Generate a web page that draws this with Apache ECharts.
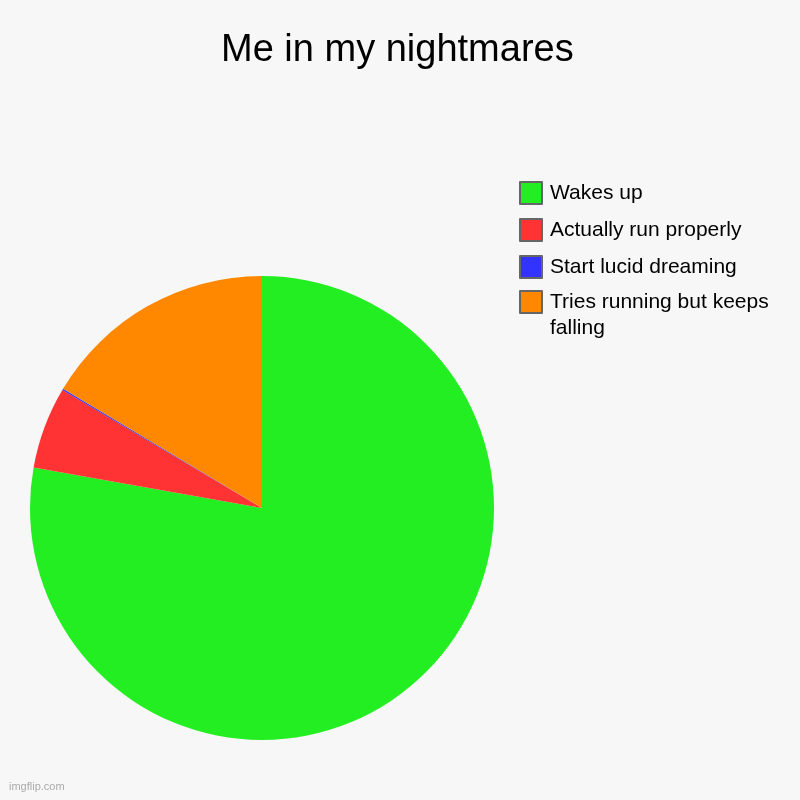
<!DOCTYPE html>
<html lang="en">
	<head>
		<meta charset="UTF-8" />
		<title>Me in my nightmares</title>
		<style>
			html, body { margin: 0; padding: 0; background: #f7f7f7; }
			#chart { width: 800px; height: 800px; }
		</style>
	</head>
	<body>
		<div id="chart"></div>
		<script src="https://cdn.jsdelivr.net/npm/echarts@6/dist/echarts.min.js"></script>
		<script>
			const names = [
				"Wakes up",
				"Actually run properly",
				"Start lucid dreaming",
				"Tries running but keeps falling",
			];
			const values = [77.8, 5.7, 0.1, 16.4];
			const colors = ["#22ee22", "#ff3333", "#3333ff", "#ff8800"];

			window.onload = function () {
				let chart = echarts.init(document.getElementById("chart"));
				let font = "'Liberation Sans', Arial, sans-serif";
				let legendCommon = {
					orient: "vertical",
					left: 519,
					padding: 0,
					icon: "rect",
					itemWidth: 22,
					itemHeight: 22,
					itemGap: 11,
					selectedMode: false,
					itemStyle: { borderColor: "#666", borderWidth: 2 },
					textStyle: {
						fontFamily: font,
						fontSize: 21,
						lineHeight: 26,
						color: "#000",
						padding: [0, 0, 0, 3],
					},
				};
				let option = {
					backgroundColor: "#f7f7f7",
					color: colors,
					title: [
						{
							text: "Me in my nightmares",
							left: 216,
							top: 27,
							textStyle: {
								fontFamily: font,
								fontSize: 38,
								fontWeight: "normal",
								color: "#000",
							},
						},
						{
							text: "imgflip.com",
							left: 4,
							bottom: 3,
							textStyle: {
								fontFamily: font,
								fontSize: 11,
								fontWeight: "normal",
								color: "#aaa",
							},
						},
					],
					legend: [
						Object.assign({}, legendCommon, {
							top: 180,
							data: names.slice(0, 3),
						}),
						Object.assign({}, legendCommon, {
							top: 263,
							data: [names[3]],
							// 空的第一行让图标对齐文字第一行
							formatter: function () {
								return "\nTries running but keeps\nfalling";
							},
						}),
					],
					series: [
						{
							type: "pie",
							center: [262, 508],
							radius: 232,
							startAngle: 90,
							clockwise: true,
							label: { show: false },
							labelLine: { show: false },
							emphasis: { disabled: true },
							animation: false,
							data: names.map(function (n, i) {
								return { name: n, value: values[i] };
							}),
						},
					],
				};
				chart.setOption(option);
			};
		</script>
	</body>
</html>
